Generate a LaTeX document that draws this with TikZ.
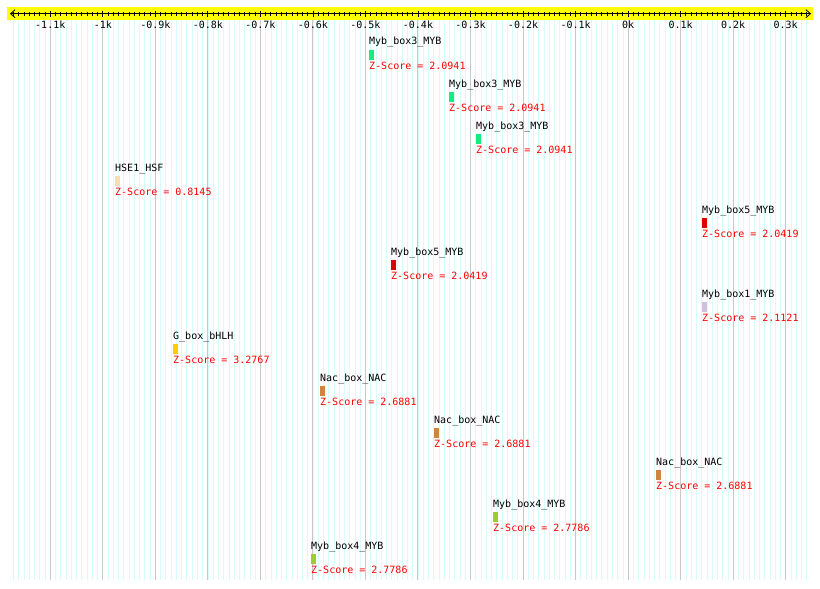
\documentclass[tikz,border=0pt]{standalone}
\usepackage{fontspec}
\setmonofont{DejaVu Sans Mono}
\usetikzlibrary{arrows.meta}
\definecolor{axisy}{RGB}{255,255,0}
\definecolor{gridc}{RGB}{214,252,252}
\definecolor{majc}{RGB}{200,200,200}
\definecolor{zred}{RGB}{255,0,0}
\definecolor{mybiii}{RGB}{20,235,130}
\definecolor{hsf}{RGB}{245,222,179}
\definecolor{mybv}{RGB}{220,0,0}
\definecolor{mybi}{RGB}{204,194,220}
\definecolor{bhlh}{RGB}{255,204,0}
\definecolor{nac}{RGB}{205,133,63}
\definecolor{mybiv}{RGB}{154,205,50}
\tikzset{
  minorgrid/.style={gridc,line width=0.7pt},
  majorgrid/.style={majc,line width=1pt},
  tickm/.style={black,line width=0.8pt},
  tickl/.style={font=\ttfamily\fontsize{10}{12}\selectfont,inner sep=0pt,anchor=base},
  lab/.style={font=\ttfamily\fontsize{10}{12}\selectfont,inner sep=0pt,anchor=base west},
  zsc/.style={lab,text=zred},
  hit/.style={rectangle,inner sep=0pt,minimum width=4.5pt,minimum height=9.5pt,anchor=north west},
}

\begin{document}
\begin{tikzpicture}[x=1pt,y=-1pt]
  \useasboundingbox[fill=white] (0,0) rectangle (820,589);
  % grid
  \foreach \i in {-117,...,34}
    {\pgfmathsetmacro\xx{628.1+\i*5.253}
     \draw[minorgrid] (\xx,20) -- (\xx,580);}
  \foreach \i in {-11,...,3}
    {\pgfmathsetmacro\xx{628.1+\i*52.53}
     \draw[majorgrid] (\xx,20) -- (\xx,580);}
  % ruler
  \fill[axisy] (7,7) rectangle (813,20);
  \coordinate (axL) at (10,13.7); \coordinate (axR) at (811,13.7);
  \draw[line width=0.8pt,{Straight Barb[length=4.5pt,width=8pt]}-{Straight Barb[length=4.5pt,width=8pt]}] (axL) -- (axR);
  \foreach \i in {-117,...,34}
    {\pgfmathsetmacro\xx{628.1+\i*5.253}
     \draw[tickm] (\xx,11.8) -- (\xx,15.8);}
  \foreach \i/\t [count=\k] in {-11/-1.1k,-10/-1k,-9/-0.9k,-8/-0.8k,-7/-0.7k,-6/-0.6k,-5/-0.5k,-4/-0.4k,-3/-0.3k,-2/-0.2k,-1/-0.1k,0/0k,1/0.1k,2/0.2k,3/0.3k}
    {\pgfmathsetmacro\xx{628.1+\i*52.53}
     \draw[tickm] (\xx,10.5) -- (\xx,17.3);
     \node[tickl] (tk\k) at (\xx,28.3) {\t};}
  % motif hits
  \foreach \x/\name/\col/\z [count=\r] in {
      369/Myb\_box3\_MYB/mybiii/2.0941, 449/Myb\_box3\_MYB/mybiii/2.0941,
      476/Myb\_box3\_MYB/mybiii/2.0941, 115/HSE1\_HSF/hsf/0.8145,
      702/Myb\_box5\_MYB/mybv/2.0419, 391/Myb\_box5\_MYB/mybv/2.0419,
      702/Myb\_box1\_MYB/mybi/2.1121, 173/G\_box\_bHLH/bhlh/3.2767,
      320/Nac\_box\_NAC/nac/2.6881, 434/Nac\_box\_NAC/nac/2.6881,
      656/Nac\_box\_NAC/nac/2.6881, 493/Myb\_box4\_MYB/mybiv/2.7786,
      311/Myb\_box4\_MYB/mybiv/2.7786}
    {\pgfmathsetmacro\yy{42*(\r-1)}
     \node[lab] (lab\r) at (\x,45+\yy) {\name};
     \node[hit,fill=\col] (bar\r) at (\x,50+\yy) {};
     \node[zsc] (z\r) at (\x,69.3+\yy) {Z-Score = \z};}
\end{tikzpicture}
\end{document}
